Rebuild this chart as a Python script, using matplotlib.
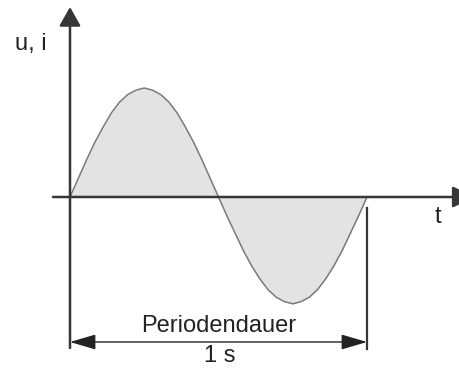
import numpy as np
import matplotlib.pyplot as plt

# Config
W, H, DPI = 460, 368, 100
X0, Y0 = 70, 197          # pixel position of the origin
PX_T, PX_V = 297, 109     # pixels per second / per unit amplitude

AXIS_COLOR = '#363636'
CURVE_COLOR = '#7a7a7a'
FILL_COLOR = '#e3e3e3'

plt.rcParams['font.family'] = ['Liberation Sans', 'DejaVu Sans']

# Curve: time in s (every 1/36 s), amplitude relative to the peak
t_s = [i / 36 for i in range(37)]
u_rel = [0.00, 0.17, 0.34, 0.50, 0.64, 0.77, 0.87, 0.94, 0.98, 1.00,
         0.98, 0.94, 0.87, 0.77, 0.64, 0.50, 0.34, 0.17, 0.00,
         -0.17, -0.33, -0.49, -0.63, -0.75, -0.85, -0.92, -0.96, -0.98,
         -0.96, -0.92, -0.85, -0.75, -0.63, -0.49, -0.33, -0.17, 0.00]

axis_labels = ['u, i', 't']
period_text = ['Periodendauer', '1 s']


def px(x, y):
    # pixel position -> data coordinates
    return (x - X0) / PX_T, (Y0 - y) / PX_V


def main():
    fig = plt.figure(figsize=(W / DPI, H / DPI), dpi=DPI)
    ax = fig.add_axes([0, 0, 1, 1])
    ax.set_xlim(px(0, 0)[0], px(W, 0)[0])
    ax.set_ylim(px(0, H)[1], px(0, 0)[1])
    ax.axis('off')

    t = np.array(t_s)
    u = np.array(u_rel)
    ax.fill_between(t, u, 0, color=FILL_COLOR, lw=0, zorder=1)
    ax.plot(t, u, color=CURVE_COLOR, lw=1.1, zorder=2)

    # Axes with arrow heads
    ax.annotate('', xy=px(X0, 7), xytext=px(X0, 348), annotation_clip=False,
                arrowprops=dict(arrowstyle='-|>,head_length=11.5,head_width=6.5',
                                mutation_scale=1, lw=1.8, color=AXIS_COLOR,
                                shrinkA=0, shrinkB=0), zorder=3)
    ax.annotate('', xy=px(474, Y0), xytext=px(53, Y0), annotation_clip=False,
                arrowprops=dict(arrowstyle='-|>,head_length=13,head_width=6.5',
                                mutation_scale=1, lw=1.8, color=AXIS_COLOR,
                                shrinkA=0, shrinkB=0), zorder=3)

    # Period marker
    ax.plot([t[-1], t[-1]], [px(0, 208)[1], px(0, 349)[1]],
            color=AXIS_COLOR, lw=1.6, zorder=3)
    ax.annotate('', xy=(t[-1], px(0, 342)[1]), xytext=(t[0], px(0, 342)[1]),
                arrowprops=dict(arrowstyle='<|-|>,head_length=16,head_width=4.7',
                                mutation_scale=1, lw=1.0, color='#222222',
                                shrinkA=0, shrinkB=0), zorder=3)

    fs = 17
    ax.text(*px(31, 44), axis_labels[0], fontsize=fs, ha='center', va='center', color='#222222')
    ax.text(*px(438, 217), axis_labels[1], fontsize=fs, ha='center', va='center', color='#222222')
    ax.text(*px(219, 326), period_text[0], fontsize=fs, ha='center', va='center', color='#222222')
    ax.text(*px(220, 356), period_text[1], fontsize=fs, ha='center', va='center', color='#222222')

    fig.savefig('out.png', dpi=DPI, facecolor='white')


if __name__ == "__main__":
    main()
